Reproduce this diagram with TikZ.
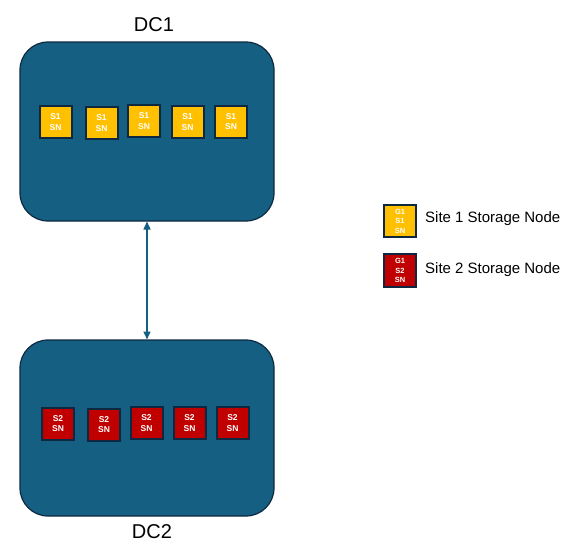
\documentclass[tikz,border=0pt]{standalone}
\usepackage{fontspec}
\setmainfont{Liberation Sans}
\usetikzlibrary{arrows.meta}
\definecolor{dcblue}{HTML}{156082}
\definecolor{dcedge}{HTML}{0E2841}
\definecolor{snyellow}{HTML}{FFC000}
\definecolor{snred}{HTML}{C00000}
\begin{document}
\begin{tikzpicture}[x=1pt,y=-1pt,
  dcbox/.style={draw=dcedge, line width=1.2pt, fill=dcblue, rounded corners=28pt},
  sn/.style={draw=dcedge, line width=2pt, minimum width=32pt, minimum height=32pt, inner sep=0pt, align=center, text=white, font=\fontsize{8.5}{10.5}\selectfont\bfseries},
  sny/.style={sn, fill=snyellow},
  snr/.style={sn, fill=snred},
  legtext/.style={anchor=west, font=\fontsize{15}{17}\selectfont, inner sep=0pt},
  dclabel/.style={font=\fontsize{20}{23}\selectfont, inner sep=0pt},
  tipend/.tip={Triangle[length=8pt,width=7pt]}
]
\useasboundingbox (0,0) rectangle (576,554);
\draw[dcbox] (20,42) rectangle (274,221);
\coordinate (dc1bot) at (147,221.5);
\draw[dcbox] (20,340) rectangle (274,516);
\coordinate (dc2top) at (147,339.5);
\node[dclabel] (l1) at (154,25) {DC1};
\node[dclabel] (l2) at (152,532) {DC2};
\node[sny] (a1) at (55.5,122) {S1\\SN};
\node[sny] (a2) at (101.5,123) {S1\\SN};
\node[sny] (a3) at (144,121) {S1\\SN};
\node[sny] (a4) at (187.5,122) {S1\\SN};
\node[sny] (a5) at (231,121.5) {S1\\SN};
\node[snr] (b1) at (58,423.5) {S2\\SN};
\node[snr] (b2) at (104,424.5) {S2\\SN};
\node[snr] (b3) at (146.5,423) {S2\\SN};
\node[snr] (b4) at (189.5,423) {S2\\SN};
\node[snr] (b5) at (232.5,423) {S2\\SN};
\node[sny, font=\fontsize{7.5}{9.5}\selectfont\bfseries] (g1) at (400,221) {G1\\S1\\SN};
\node[snr, font=\fontsize{7.5}{9.5}\selectfont\bfseries, minimum height=33pt] (g2) at (400,270.5) {G1\\S2\\SN};
\node[legtext] (t1) at (425,219) {Site 1 Storage Node};
\node[legtext] (t2) at (425,270) {Site 2 Storage Node};
\draw[dcblue, line width=1.5pt, tipend-tipend] (dc1bot) -- (dc2top);
\end{tikzpicture}
\end{document}
